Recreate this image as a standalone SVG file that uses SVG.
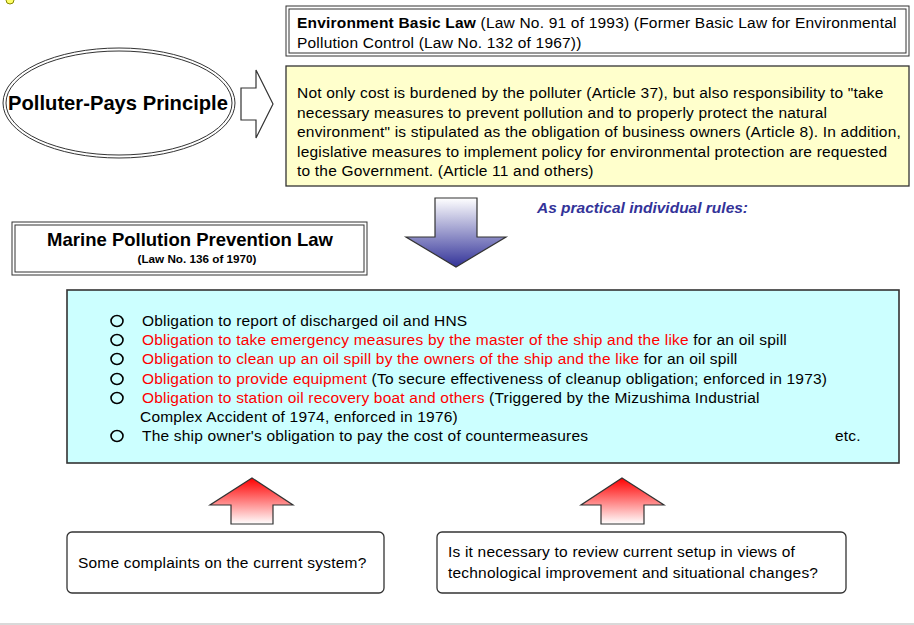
<svg xmlns="http://www.w3.org/2000/svg" width="914" height="625" viewBox="0 0 914 625">
<defs>
<style>
text{font-family:"Liberation Sans",Arial,Helvetica,sans-serif;fill:#000;}
.t{font-size:15.5px;letter-spacing:0.2px;}
.b{font-weight:bold;}
.red{fill:#ff0000;}
.box{stroke:#333;stroke-width:1.3;}
.dbl{fill:none;stroke:#333;stroke-width:1;}
.bul{fill:none;stroke:#000;stroke-width:1.6;}
</style>
<linearGradient id="blueG" x1="0" y1="0" x2="0" y2="1">
<stop offset="0" stop-color="#ffffff"/>
<stop offset="1" stop-color="#333399"/>
</linearGradient>
<linearGradient id="redG" x1="0" y1="0" x2="0" y2="1">
<stop offset="0" stop-color="#ff0000"/>
<stop offset="1" stop-color="#ffffff"/>
</linearGradient>
</defs>
<rect width="914" height="625" fill="#fff"/>
<circle cx="10" cy="0" r="4" fill="#ffff66" stroke="#888800" stroke-width="1"/>
<line x1="0" y1="624" x2="914" y2="624" stroke="#d9d9d9" stroke-width="2"/>

<g id="ppp">
<ellipse cx="119" cy="103" rx="116" ry="55" class="dbl"/>
<ellipse cx="119" cy="103" rx="113" ry="52" class="dbl"/>
<text x="118" y="110" text-anchor="middle" class="b" font-size="20.2">Polluter-Pays Principle</text>
</g>

<g id="env">
<rect x="286" y="6" width="623" height="50" class="dbl"/>
<rect x="289" y="9" width="617" height="44" class="dbl"/>
<text class="t" x="297" y="28"><tspan class="b">Environment Basic Law</tspan> (Law No. 91 of 1993) (Former Basic Law for Environmental</text>
<text class="t" x="297" y="48">Pollution Control (Law No. 132 of 1967))</text>
</g>

<g id="envText">
<rect x="286" y="66" width="623" height="120" fill="#ffffcc" class="box"/>
<text class="t" x="297" y="98">Not only cost is burdened by the polluter (Article 37), but also responsibility to "take</text>
<text class="t" x="297" y="118">necessary measures to prevent pollution and to properly protect the natural</text>
<text class="t" x="297" y="137">environment" is stipulated as the obligation of business owners (Article 8). In addition,</text>
<text class="t" x="297" y="157">legislative measures to implement policy for environmental protection are requested</text>
<text class="t" x="297" y="176">to the Government. (Article 11 and others)</text>
</g>

<g id="rules">
<text x="537" y="213" font-size="15.5" font-weight="bold" font-style="italic" style="fill:#333399">As practical individual rules:</text>
</g>

<g id="mppl">
<rect x="12" y="222" width="355" height="53" class="dbl"/>
<rect x="15" y="225" width="349" height="47" class="dbl"/>
<text x="190" y="246" text-anchor="middle" class="b" font-size="18.5">Marine Pollution Prevention Law</text>
<text x="197" y="263" text-anchor="middle" class="b" font-size="11.7">(Law No. 136 of 1970)</text>
</g>

<g id="list">
<rect x="67" y="290" width="832" height="173" fill="#ccffff" stroke="#333" stroke-width="1.6"/>
<ellipse cx="117" cy="321" rx="6" ry="5.5" class="bul"/>
<ellipse cx="117" cy="340" rx="6" ry="5.5" class="bul"/>
<ellipse cx="117" cy="359" rx="6" ry="5.5" class="bul"/>
<ellipse cx="117" cy="379" rx="6" ry="5.5" class="bul"/>
<ellipse cx="117" cy="398" rx="6" ry="5.5" class="bul"/>
<ellipse cx="117" cy="436" rx="6" ry="5.5" class="bul"/>
<text class="t" x="142" y="326">Obligation to report of discharged oil and HNS</text>
<text class="t" x="142" y="345"><tspan class="red">Obligation to take emergency measures by the master of the ship and the like</tspan> for an oil spill</text>
<text class="t" x="142" y="364"><tspan class="red">Obligation to clean up an oil spill by the owners of the ship and the like</tspan> for an oil spill</text>
<text class="t" x="142" y="384"><tspan class="red">Obligation to provide equipment</tspan> (To secure effectiveness of cleanup obligation; enforced in 1973)</text>
<text class="t" x="142" y="403"><tspan class="red">Obligation to station oil recovery boat and others</tspan> (Triggered by the Mizushima Industrial</text>
<text class="t" x="140" y="422">Complex Accident of 1974, enforced in 1976)</text>
<text class="t" x="142" y="441">The ship owner's obligation to pay the cost of countermeasures</text>
<text class="t" x="835" y="441">etc.</text>
</g>

<g id="q1">
<rect x="67" y="532" width="317" height="61" rx="5" fill="#fff" stroke="#333" stroke-width="1.3"/>
<text class="t" x="78" y="568">Some complaints on the current system?</text>
</g>

<g id="q2">
<rect x="437" y="532" width="409" height="61" rx="5" fill="#fff" stroke="#333" stroke-width="1.3"/>
<text class="t" x="448" y="557">Is it necessary to review current setup in views of</text>
<text class="t" x="448" y="578">technological improvement and situational changes?</text>
</g>

<g id="connectors">
<polygon points="241,88 256,88 256,70 273,104 256,138 256,120 241,120" fill="#fff" stroke="#333" stroke-width="1.2"/>
<polygon points="435,198 477,198 477,237 506,237 456,267 406,237 435,237" fill="url(#blueG)" stroke="#333" stroke-width="1.2"/>
<polygon points="252,478 293,505 273,505 273,524 231,524 231,505 210,505" fill="url(#redG)" stroke="#333" stroke-width="1.2"/>
<polygon points="622,478 664,505 644,505 644,524 601,524 601,505 581,505" fill="url(#redG)" stroke="#333" stroke-width="1.2"/>
</g>
</svg>
